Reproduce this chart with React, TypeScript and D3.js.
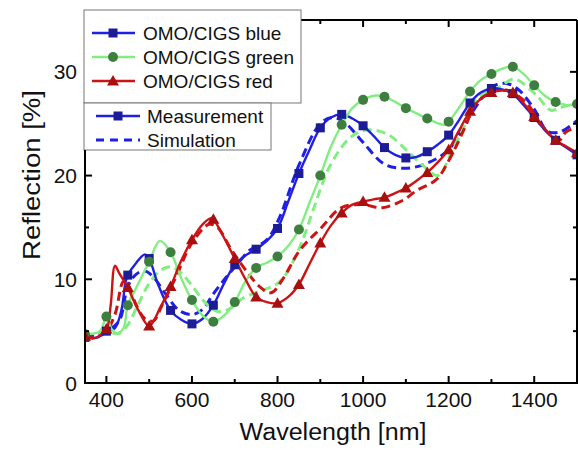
import React from "react";
import * as d3 from "d3";

type P = [number, number];

const xTicksMajor = [400, 600, 800, 1000, 1200, 1400];
const xTicksMinor = [500, 700, 900, 1100, 1300];
const yTicksMajor = [0, 10, 20, 30];
const yTicksMinor = [5, 15, 25];

const blueMeas: P[] = [
  [350, 4.4], [380, 4.4], [400, 5.0], [420, 5.3], [435, 7.0], [445, 9.8], [450, 10.4], [470, 11.6], [490, 12.4],
  [500, 12.0], [520, 9.6], [550, 7.0], [575, 6.1], [600, 5.7], [625, 6.2], [650, 7.5], [675, 9.6], [700, 11.4],
  [725, 12.3], [750, 12.9], [775, 13.7], [800, 14.9], [825, 17.5], [850, 20.2], [875, 22.5], [900, 24.6],
  [925, 25.6], [950, 25.9], [975, 25.5], [1000, 24.8], [1025, 23.8], [1050, 22.7], [1075, 22.0], [1100, 21.7],
  [1125, 21.8], [1150, 22.3], [1175, 23.0], [1200, 23.9], [1225, 25.4], [1250, 27.0], [1275, 28.0], [1300, 28.4],
  [1325, 28.3], [1350, 27.9], [1375, 26.8], [1400, 25.6], [1425, 24.4], [1450, 23.4], [1475, 22.7], [1500, 22.0],
];
const blueSim: P[] = [
  [350, 4.4], [400, 5.0], [430, 6.0], [450, 9.3], [470, 10.5], [490, 10.8], [510, 10.2], [540, 8.5], [570, 7.0],
  [600, 6.6], [625, 7.1], [650, 8.6], [680, 10.2], [705, 11.4], [735, 12.8], [775, 13.8], [805, 16.0], [850, 21.0],
  [900, 25.0], [930, 25.6], [960, 25.0], [1000, 23.2], [1050, 21.1], [1100, 20.7], [1150, 21.2], [1200, 22.5],
  [1250, 25.8], [1300, 28.5], [1330, 28.9], [1360, 28.4], [1400, 26.4], [1430, 24.3], [1460, 24.2], [1500, 25.3],
];
const greenMeas: P[] = [
  [350, 4.7], [385, 5.0], [400, 6.4], [412, 5.2], [425, 4.8], [440, 5.3], [450, 7.5], [470, 9.2], [500, 11.7],
  [525, 13.7], [550, 12.6], [575, 10.1], [600, 8.0], [625, 6.5], [650, 5.9], [675, 6.5], [700, 7.8], [725, 9.8],
  [750, 11.1], [775, 11.6], [800, 12.2], [825, 13.2], [850, 14.8], [875, 17.4], [900, 20.0], [925, 22.8],
  [950, 24.9], [975, 26.5], [1000, 27.3], [1025, 27.7], [1050, 27.6], [1075, 27.1], [1100, 26.5], [1125, 26.0],
  [1150, 25.5], [1190, 24.9], [1200, 25.2], [1225, 26.6], [1250, 28.1], [1275, 29.2], [1300, 29.8], [1325, 30.3],
  [1350, 30.5], [1375, 29.8], [1400, 28.7], [1425, 27.7], [1450, 27.1], [1475, 26.8], [1500, 26.9],
];
const greenSim: P[] = [
  [350, 4.5], [400, 4.9], [430, 4.8], [450, 5.6], [470, 7.2], [500, 9.6], [525, 10.8], [550, 11.2], [575, 10.6],
  [600, 9.4], [630, 7.8], [660, 6.9], [690, 7.2], [720, 8.2], [770, 9.0], [800, 9.6], [820, 10.5], [855, 13.4],
  [886, 17.0], [921, 20.8], [963, 23.4], [990, 24.2], [1022, 24.4], [1061, 23.9], [1100, 22.5], [1139, 21.0],
  [1175, 20.0], [1209, 22.5], [1241, 25.1], [1271, 27.6], [1318, 28.5], [1353, 29.3], [1404, 27.8], [1439, 26.3],
  [1465, 26.6], [1500, 27.0],
];
const redMeas: P[] = [
  [350, 4.5], [370, 4.3], [400, 5.2], [410, 7.5], [420, 11.3], [430, 10.6], [450, 9.2], [475, 7.0], [500, 5.5],
  [525, 7.2], [550, 9.3], [575, 11.8], [600, 13.8], [625, 15.3], [645, 15.9], [650, 15.8], [675, 14.0], [700, 12.0],
  [725, 10.0], [750, 8.3], [775, 7.8], [800, 7.7], [825, 8.3], [850, 9.5], [875, 11.5], [900, 13.5], [925, 15.2],
  [950, 16.4], [975, 17.2], [1000, 17.5], [1025, 17.7], [1050, 17.9], [1075, 18.3], [1100, 18.8], [1125, 19.5],
  [1150, 20.3], [1175, 21.3], [1200, 22.5], [1225, 24.4], [1250, 26.2], [1275, 27.4], [1300, 28.0], [1325, 28.2],
  [1350, 28.0], [1375, 27.0], [1400, 25.7], [1425, 24.5], [1450, 23.4], [1475, 22.8], [1500, 22.2],
];
const redSim: P[] = [
  [350, 4.6], [380, 4.5], [400, 5.0], [420, 6.6], [440, 9.8], [450, 9.5], [470, 7.5], [490, 6.2], [510, 6.0],
  [530, 7.5], [560, 10.0], [600, 13.5], [640, 15.3], [660, 15.0], [690, 13.0], [720, 11.2], [758, 9.3], [785, 8.7],
  [812, 10.0], [852, 12.8], [903, 15.0], [949, 16.9], [998, 17.2], [1045, 16.9], [1092, 17.6], [1127, 18.6],
  [1171, 19.6], [1201, 21.5], [1241, 24.9], [1264, 27.0], [1325, 28.3], [1380, 27.1], [1419, 24.7], [1458, 23.4],
  [1474, 24.2], [1500, 24.7],
];

const seriesNames = ["OMO/CIGS blue", "OMO/CIGS green", "OMO/CIGS red"];
const styleNames = ["Measurement", "Simulation"];

const W = 578, H = 450;
const L = 85, R = 577, T = 20, B = 383;
const FONT = "'Liberation Sans', Arial, sans-serif";

const colors = [
  { line: "#1f1fe6", mark: "#1c1c96", shape: "square" },
  { line: "#82ee82", mark: "#3e7e3e", shape: "circle" },
  { line: "#cc1414", mark: "#a81010", shape: "triangle" },
];

function Marker({ x, y, shape, fill }: { x: number; y: number; shape: string; fill: string }) {
  if (shape === "square") return <rect x={x - 4.5} y={y - 4.5} width={9} height={9} fill={fill} />;
  if (shape === "circle") return <circle cx={x} cy={y} r={5} fill={fill} />;
  return <path d={`M${x},${y - 6} L${x + 6},${y + 4.5} L${x - 6},${y + 4.5} Z`} fill={fill} />;
}

export default function App() {
  const x = d3.scaleLinear().domain([350, 1500]).range([L, R]);
  const y = d3.scaleLinear().domain([0, 35]).range([B, T]);
  const line = d3
    .line<P>()
    .x((d) => x(d[0]))
    .y((d) => y(d[1]))
    .curve(d3.curveCatmullRom.alpha(0.5));

  const meas = [blueMeas, greenMeas, redMeas];
  const sims = [blueSim, greenSim, redSim];

  return (
    <svg width={W} height={H} style={{ position: "absolute", left: 0, top: 0 }} fontFamily={FONT}>
      <rect width={W} height={H} fill="#fff" />
      <defs>
        <clipPath id="plot">
          <rect x={L} y={T} width={R - L} height={B - T} />
        </clipPath>
      </defs>
      <g clipPath="url(#plot)">
        {sims.map((s, i) => (
          <path key={"s" + i} d={line(s) || ""} fill="none" stroke={colors[i].line} strokeWidth={3}
            strokeDasharray="9,5" />
        ))}
        {meas.map((s, i) => (
          <path key={"m" + i} d={line(s) || ""} fill="none" stroke={colors[i].line} strokeWidth={2.4} />
        ))}
        {meas.map((s, i) =>
          s
            .filter((d) => d[0] % 50 === 0)
            .map((d, j) => (
              <Marker key={i + "-" + j} x={x(d[0])} y={y(d[1])} shape={colors[i].shape} fill={colors[i].mark} />
            ))
        )}
      </g>
      {/* frame */}
      <g stroke="#000" strokeWidth={2} fill="none">
        <line x1={L} x2={R} y1={B} y2={B} />
        <line x1={L} x2={R} y1={T} y2={T} />
        <line x1={L} x2={L} y1={T} y2={B + 1} />
        <line x1={R} x2={R} y1={T} y2={B + 1} />
        {xTicksMajor.map((t) => (
          <g key={"xM" + t}>
            <line x1={x(t)} x2={x(t)} y1={B} y2={B - 7} />
            <line x1={x(t)} x2={x(t)} y1={T} y2={T + 7} />
          </g>
        ))}
        {xTicksMinor.map((t) => (
          <g key={"xm" + t}>
            <line x1={x(t)} x2={x(t)} y1={B} y2={B - 4} />
            <line x1={x(t)} x2={x(t)} y1={T} y2={T + 4} />
          </g>
        ))}
        {yTicksMajor.map((t) => (
          <g key={"yM" + t}>
            <line x1={L} x2={L + 7} y1={y(t)} y2={y(t)} />
            <line x1={R} x2={R - 7} y1={y(t)} y2={y(t)} />
          </g>
        ))}
        {yTicksMinor.map((t) => (
          <g key={"ym" + t}>
            <line x1={L} x2={L + 4} y1={y(t)} y2={y(t)} />
            <line x1={R} x2={R - 4} y1={y(t)} y2={y(t)} />
          </g>
        ))}
      </g>
      {xTicksMajor.map((t) => (
        <text key={"xl" + t} x={x(t)} y={407} textAnchor="middle" fontSize={21} fill="#111">
          {t}
        </text>
      ))}
      {yTicksMajor.map((t) => (
        <text key={"yl" + t} x={77} y={y(t) + 7.5} textAnchor="end" fontSize={21} fill="#111">
          {t}
        </text>
      ))}
      <text x={333} y={440} textAnchor="middle" fontSize={23} textLength={187} lengthAdjust="spacingAndGlyphs"
        fill="#111">
        Wavelength [nm]
      </text>
      <text transform="translate(40,175) rotate(-90)" textAnchor="middle" fontSize={23} textLength={170}
        lengthAdjust="spacingAndGlyphs" fill="#111">
        Reflection [%]
      </text>
      {/* legend 1 */}
      <rect x={84} y={10} width={217} height={93} fill="#fff" stroke="#777" strokeWidth={1} />
      {seriesNames.map((n, i) => {
        const yy = 33 + i * 24;
        return (
          <g key={n}>
            <line x1={92} x2={135} y1={yy} y2={yy} stroke={colors[i].line} strokeWidth={2.4} />
            <Marker x={113} y={yy} shape={colors[i].shape} fill={colors[i].mark} />
            <text x={143} y={yy + 6.5} fontSize={19} fill="#111">
              {n}
            </text>
          </g>
        );
      })}
      {/* legend 2 */}
      <rect x={84} y={103} width={187} height={47} fill="#fff" stroke="#777" strokeWidth={1} />
      <line x1={96} x2={140} y1={116} y2={116} stroke={colors[0].line} strokeWidth={2.4} />
      <Marker x={118} y={116} shape="square" fill={colors[0].mark} />
      <text x={147} y={122.5} fontSize={19} fill="#111">
        {styleNames[0]}
      </text>
      <line x1={96} x2={140} y1={140} y2={140} stroke={colors[0].line} strokeWidth={3} strokeDasharray="8,6" />
      <text x={147} y={146.5} fontSize={19} fill="#111">
        {styleNames[1]}
      </text>
      <line x1={L} x2={L} y1={150} y2={B + 1} stroke="#000" strokeWidth={2} />
    </svg>
  );
}
